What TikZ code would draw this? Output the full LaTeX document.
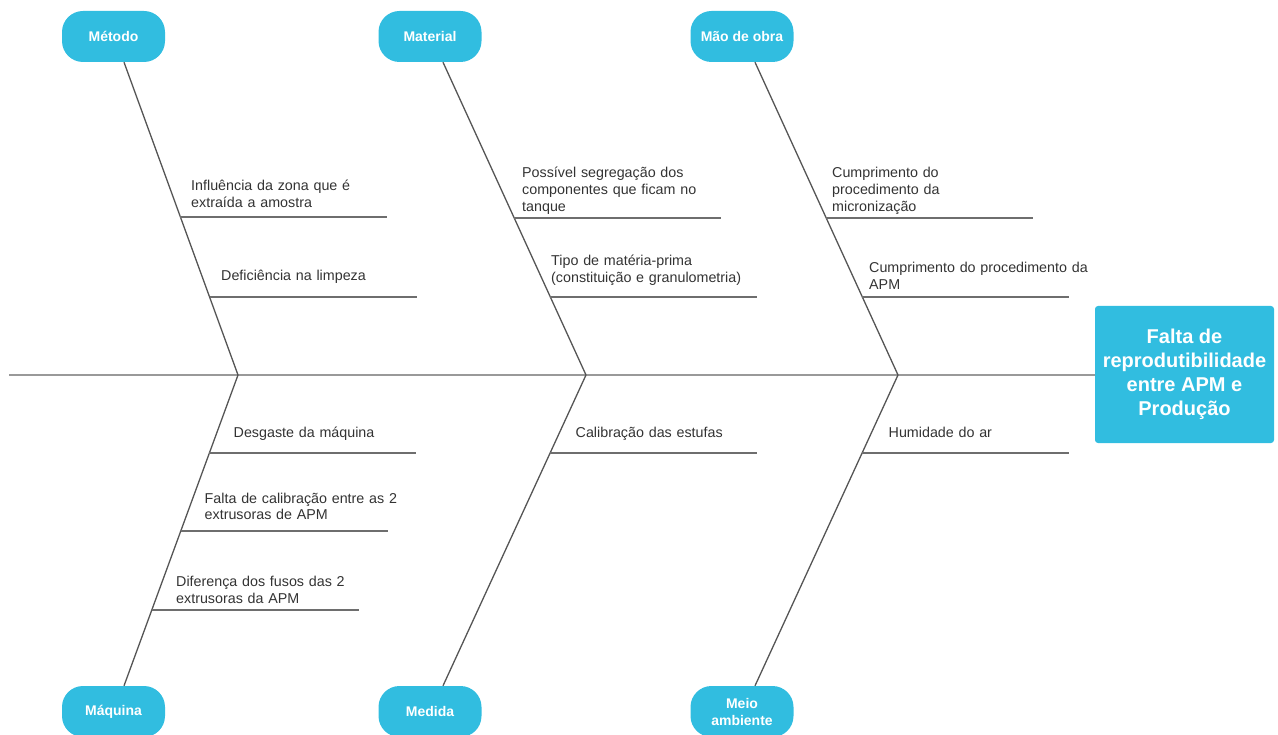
\documentclass[tikz,border=0pt]{standalone}
\usepackage{fontspec}
\setmainfont{Liberation Sans}
\usetikzlibrary{calc}
\definecolor{boxblue}{HTML}{31BDE0}
\definecolor{txtgray}{HTML}{333333}
\definecolor{bonegray}{HTML}{555555}
\definecolor{subgray}{HTML}{6E6E6E}
\definecolor{spinegray}{HTML}{999999}
\begin{document}
\begin{tikzpicture}[x=1pt,y=-1pt,
  catbox/.style={fill=boxblue, draw=none, minimum width=103pt, minimum height=51pt,
    rounded corners=21pt, text=white, inner sep=0pt, align=center,
    font=\bfseries\fontsize{14}{17}\selectfont},
  effectbox/.style={fill=boxblue, draw=none, minimum width=179pt, minimum height=137pt,
    rounded corners=3pt, text=white, inner sep=0pt, align=center,
    font=\bfseries\fontsize{20}{24.2}\selectfont},
  cause/.style={anchor=base west, inner sep=0pt, text=txtgray, align=left,
    text width=260pt, font=\fontsize{14.3}{17}\selectfont},
  bone/.style={draw=bonegray, line width=1.3pt},
  subline/.style={draw=subgray, line width=1.4pt},
  spine/.style={draw=spinegray, line width=2pt}]
\useasboundingbox (0,0) rectangle (1278,735);
\clip (0,0) rectangle (1278,735);

% category boxes
\node[catbox] (metodo)   at (113.5,36.5) {Método};
\node[catbox] (material) at (430,36.5) {Material};
\node[catbox] (mao)      at (742,36.5) {Mão de obra};
\node[catbox] (maquina)  at (113.5,711.5) {Máquina};
\node[catbox] (medida)   at (430,711.5) {Medida};
\node[catbox] (meio)     at (742,711.5) {Meio\\ambiente};

% effect
\node[effectbox] (effect) at (1184.5,374.5) {Falta de\\reprodutibilidade\\entre APM e\\Produção};

% spine and joints
\coordinate (tail) at (9,375);
\coordinate (j1) at (238,375);
\coordinate (j2) at (586,375);
\coordinate (j3) at (898,375);
\draw[spine] (tail) -- (j1 -| effect.west);

% bone anchors on boxes
\coordinate (t1) at ([xshift=10.5pt]metodo.south);
\coordinate (t2) at ([xshift=13pt]material.south);
\coordinate (t3) at ([xshift=13pt]mao.south);
\coordinate (b1) at ([xshift=10.5pt]maquina.north);
\coordinate (b2) at ([xshift=13pt]medida.north);
\coordinate (b3) at ([xshift=13pt]meio.north);

\draw[bone] (t1) -- (j1) -- (b1);
\draw[bone] (t2) -- (j2) -- (b2);
\draw[bone] (t3) -- (j3) -- (b3);

% sub-branches top
\coordinate (s11) at ($(t1)!0.495!(j1)$);
\coordinate (s12) at ($(t1)!0.751!(j1)$);
\coordinate (s21) at ($(t2)!0.498!(j2)$);
\coordinate (s22) at ($(t2)!0.751!(j2)$);
\coordinate (s31) at ($(t3)!0.498!(j3)$);
\coordinate (s32) at ($(t3)!0.751!(j3)$);
% sub-branches bottom
\coordinate (u11) at ($(j1)!0.251!(b1)$);
\coordinate (u12) at ($(j1)!0.502!(b1)$);
\coordinate (u13) at ($(j1)!0.756!(b1)$);
\coordinate (u21) at ($(j2)!0.251!(b2)$);
\coordinate (u31) at ($(j3)!0.251!(b3)$);

\foreach \c in {s11,s12,s21,s22,s31,s32,u11,u12,u13,u21,u31}
  \draw[subline] (\c) -- ++(207,0);

% cause texts
\node[cause] (c11) at (191,191) {Influência da zona que é\\extraída a amostra};
\node[cause] (c12) at (221,281) {Deficiência na limpeza};
\node[cause] (c21) at (522,178) {Possível segregação dos\\componentes que ficam no\\tanque};
\node[cause] (c22) at (551,266) {Tipo de matéria-prima\\(constituição e granulometria)};
\node[cause] (c31) at (832,178) {Cumprimento do\\procedimento da\\micronização};
\node[cause] (c32) at (869,273) {Cumprimento do procedimento da\\APM};
\node[cause] (d11) at (233.5,438) {Desgaste da máquina};
\node[cause] (d12) at (204.5,503) {Falta de calibração entre as 2\\extrusoras de APM};
\node[cause] (d13) at (176,586.5) {Diferença dos fusos das 2\\extrusoras da APM};
\node[cause] (d21) at (575.5,438) {Calibração das estufas};
\node[cause] (d31) at (888.5,438) {Humidade do ar};
\end{tikzpicture}
\end{document}
